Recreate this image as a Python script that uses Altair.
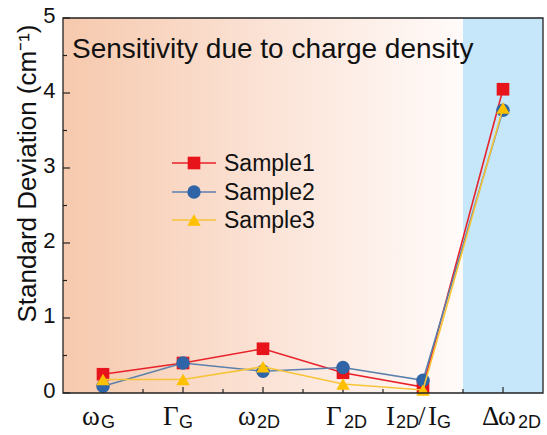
import altair as alt
import pandas as pd

# ---- data ----
categories = ["ωG", "ΓG", "ω2D", "Γ2D", "I2D/IG", "Δω2D"]
cat_index = [1, 2, 3, 4, 5, 6]
series_names = ["Sample1", "Sample2", "Sample3"]
sample1 = [0.25, 0.40, 0.59, 0.27, 0.08, 4.05]
sample2 = [0.09, 0.40, 0.29, 0.34, 0.17, 3.77]
sample3 = [0.18, 0.18, 0.35, 0.12, 0.04, 3.80]
y_major = [0, 1, 2, 3, 4, 5]
y_minor = [0.5, 1.5, 2.5, 3.5, 4.5]
x_major = [1, 2, 3, 4, 5, 6]
x_minor = [1.5, 2.5, 3.5, 4.5, 5.5]

W, H = 480, 375
xs = alt.Scale(domain=[0.5, 6.5], nice=False, zero=False)
ys = alt.Scale(domain=[0, 5], nice=False, zero=False)

line_colors = ["#E8212A", "#5B80AC", "#F7C438"]
mark_colors = ["#E8141B", "#2F65A6", "#FFC000"]
shapes = ["square", "circle", "triangle-up"]
sizes = [160, 180, 180]

rows = []
for name, vals in zip(series_names, [sample1, sample2, sample3]):
    for c, i, v in zip(categories, cat_index, vals):
        rows.append({"series": name, "cat": c, "idx": i, "value": v})
df = pd.DataFrame(rows)

bg = pd.DataFrame({"x1": [0.5, 5.5], "x2": [5.5, 6.5], "y1": [0, 0], "y2": [5, 5], "part": ["grad", "blue"]})

base = alt.Chart(df)

grad = alt.Chart(bg).transform_filter(alt.datum.part == "grad").mark_rect(
    fill=alt.LinearGradient(
        gradient="linear",
        stops=[alt.GradientStop(color="#F6C9AD", offset=0),
               alt.GradientStop(color="#FBE2D5", offset=0.5),
               alt.GradientStop(color="#FFFBFA", offset=1)],
        x1=0, x2=1, y1=0, y2=0),
    stroke=None,
).encode(
    x=alt.X("x1:Q", scale=xs, axis=alt.Axis(labels=False, ticks=False, domain=False, grid=False, title=None)),
    x2="x2:Q",
    y=alt.Y("y1:Q", scale=ys, axis=alt.Axis(
        values=y_major, format="d", ticks=False, domain=False, grid=False,
        labelFont="Liberation Sans", labelFontSize=22, labelColor="#111",
        labelPadding=8, labelOffset=-3,
        title="Standard Deviation (cm⁻¹)", titleFont="Liberation Sans",
        titleFontSize=26, titleFontWeight="normal", titleColor="#111",
        titleAngle=-90, titleX=-36, titleY=155, titleAlign="center", titleBaseline="middle")),
    y2="y2:Q",
)

blue = alt.Chart(bg).transform_filter(alt.datum.part == "blue").mark_rect(fill="#C6E6FA").encode(
    x=alt.X("x1:Q", scale=xs), x2="x2:Q", y=alt.Y("y1:Q", scale=ys), y2="y2:Q")

layers = [grad, blue]

# ticks (inward)
tx_major = alt.Chart(pd.DataFrame({"t": x_major})).mark_rule(color="#222", strokeWidth=1.2).encode(
    x=alt.X("t:Q", scale=xs), y=alt.value(H), y2=alt.value(H - 6))
tx_minor = alt.Chart(pd.DataFrame({"t": x_minor})).mark_rule(color="#222", strokeWidth=1.2).encode(
    x=alt.X("t:Q", scale=xs), y=alt.value(H), y2=alt.value(H - 4))
ty_major = alt.Chart(pd.DataFrame({"t": y_major})).mark_rule(color="#222", strokeWidth=1.2).encode(
    y=alt.Y("t:Q", scale=ys), x=alt.value(0), x2=alt.value(7))
ty_minor = alt.Chart(pd.DataFrame({"t": y_minor})).mark_rule(color="#222", strokeWidth=1.2).encode(
    y=alt.Y("t:Q", scale=ys), x=alt.value(0), x2=alt.value(4))
layers += [tx_major, tx_minor, ty_major, ty_minor]

# series
for k, name in enumerate(series_names):
    sub = base.transform_filter(alt.datum.series == name)
    ln = sub.mark_line(color=line_colors[k], strokeWidth=1.6).encode(
        x=alt.X("idx:Q", scale=xs), y=alt.Y("value:Q", scale=ys), order="idx:Q")
    pt = sub.mark_point(shape=shapes[k], filled=True, opacity=1, size=sizes[k],
                        color=mark_colors[k]).encode(
        x=alt.X("idx:Q", scale=xs), y=alt.Y("value:Q", scale=ys))
    layers += [ln, pt]

# frame
frame = alt.Chart(bg).transform_filter(alt.datum.part == "grad").mark_rect(
    fill=None, stroke="#222", strokeWidth=1.3).encode(
    x=alt.datum(0.5, scale=xs), x2=alt.datum(6.5), y=alt.datum(0, scale=ys), y2=alt.datum(5))
layers.append(frame)

# legend (manual)
leg_y = [145, 174, 202]
for k, name in enumerate(series_names):
    r = alt.Chart(pd.DataFrame({"s": [name]})).mark_rule(color=line_colors[k], strokeWidth=1.6).encode(
        x=alt.value(109), x2=alt.value(153), y=alt.value(leg_y[k]))
    p = alt.Chart(pd.DataFrame({"s": [name]})).mark_point(shape=shapes[k], filled=True, opacity=1,
                                                          size=sizes[k], color=mark_colors[k]).encode(
        x=alt.value(131), y=alt.value(leg_y[k]))
    t = alt.Chart(pd.DataFrame({"s": [name]})).mark_text(
        align="left", baseline="middle", font="Liberation Sans", fontSize=23, color="#111").encode(
        x=alt.value(161), y=alt.value(leg_y[k] + 1), text="s:N")
    layers += [r, p, t]

# title inside
title = alt.Chart(pd.DataFrame({"s": ["Sensitivity due to charge density"]})).mark_text(
    align="left", baseline="alphabetic", font="Liberation Sans", fontSize=28, color="#111").encode(
    x=alt.value(9), y=alt.value(40), text="s:N")
layers.append(title)

# x tick labels built from pieces (symbol + subscript)
pieces = [
    (1, [("ω", "main", -21), ("G", "sub", -2)]),
    (2, [("Γ", "main", -20), ("G", "sub", -4)]),
    (3, [("ω", "main", -25), ("2D", "sub", -6)]),
    (4, [("Γ", "main", -17), ("2D", "sub", 1)]),
    (5, [("I", "main", -37), ("2D", "sub", -27), ("/", "main", -5), ("I", "main", 5), ("G", "sub", 14)]),
    (6, [("Δ", "main", -21), ("ω", "main", -5), ("2D", "sub", 15)]),
]
for idx, parts in pieces:
    for txt, kind, dx in parts:
        if kind == "main":
            m = alt.Chart(pd.DataFrame({"s": [txt]})).mark_text(
                align="left", baseline="alphabetic", font="Liberation Serif", fontSize=27,
                color="#111", dx=dx).encode(
                x=alt.datum(idx, scale=xs), y=alt.value(H + 32), text="s:N")
        else:
            m = alt.Chart(pd.DataFrame({"s": [txt]})).mark_text(
                align="left", baseline="alphabetic", font="Liberation Sans", fontSize=18,
                color="#111", dx=dx).encode(
                x=alt.datum(idx, scale=xs), y=alt.value(H + 35), text="s:N")
        layers.append(m)

chart = alt.layer(*layers).properties(
    width=W, height=H,
    padding={"left": 63, "top": 18, "right": 4, "bottom": 42},
    autosize=alt.AutoSizeParams(type="none"),
    background="white",
).configure_view(stroke=None)

chart.save("out.html", embed_options={"renderer": "svg", "actions": False})
